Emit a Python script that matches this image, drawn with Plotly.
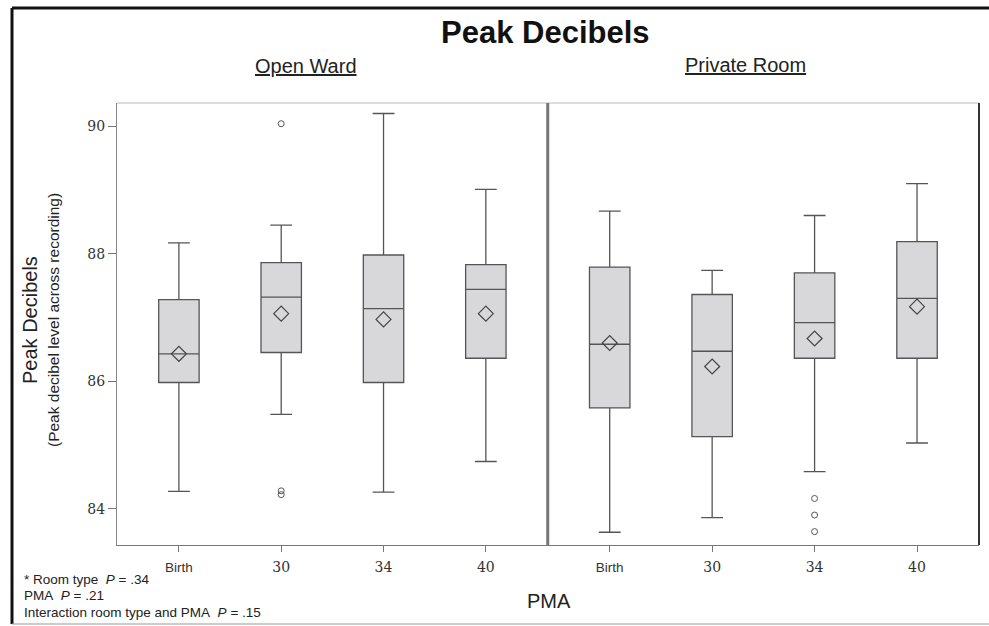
import plotly.graph_objects as go

# ---------------- data ----------------
categories = ["Birth", "30", "34", "40"]

open_q1 = [85.98, 86.45, 85.98, 86.36]
open_median = [86.43, 87.32, 87.14, 87.44]
open_q3 = [87.28, 87.86, 87.98, 87.83]
open_low = [84.27, 85.48, 84.26, 84.74]
open_high = [88.17, 88.45, 90.20, 89.01]
open_mean = [86.43, 87.06, 86.97, 87.06]
open_out_x = ["30", "30", "30"]
open_out_y = [90.04, 84.22, 84.28]

priv_q1 = [85.58, 85.13, 86.36, 86.36]
priv_median = [86.58, 86.47, 86.92, 87.30]
priv_q3 = [87.79, 87.36, 87.70, 88.19]
priv_low = [83.63, 83.86, 84.58, 85.03]
priv_high = [88.67, 87.74, 88.60, 89.10]
priv_mean = [86.60, 86.23, 86.67, 87.17]
priv_out_x = ["34", "34", "34"]
priv_out_y = [84.16, 83.90, 83.64]

y_ticks = [84, 86, 88, 90]
tick_labels = ['<span style="font-family:Liberation Sans;font-size:13.5px">Birth</span>', "30", "34", "40"]

# ---------------- geometry helpers ----------------
W, H = 989, 626
L, R, T, B = 117, 10, 103, 81
PW, PH = W - L - R, H - T - B


def px(x):
    return (x - L) / PW


def py(y):
    return (H - B - y) / PH


BOX_LINE = "#555555"
BOX_FILL = "#d8d8da"

fig = go.Figure()

panels = [
    ("x", open_q1, open_median, open_q3, open_low, open_high, open_mean, open_out_x, open_out_y),
    ("x2", priv_q1, priv_median, priv_q3, priv_low, priv_high, priv_mean, priv_out_x, priv_out_y),
]

for xa, q1, med, q3, lo, hi, mn, ox, oy in panels:
    fig.add_trace(go.Box(
        x=categories, q1=q1, median=med, q3=q3, lowerfence=lo, upperfence=hi,
        xaxis=xa, yaxis="y", boxpoints=False, width=0.395, whiskerwidth=0.54,
        fillcolor=BOX_FILL, line=dict(color=BOX_LINE, width=1.3), showlegend=False,
    ))
    fig.add_trace(go.Scatter(
        x=categories, y=mn, xaxis=xa, yaxis="y", mode="markers",
        marker=dict(symbol="diamond-open", size=11.5, color="#444444", line=dict(width=1.2)),
        showlegend=False,
    ))
    fig.add_trace(go.Scatter(
        x=ox, y=oy, xaxis=xa, yaxis="y", mode="markers",
        marker=dict(symbol="circle-open", size=6, color="#555555", line=dict(width=1)),
        showlegend=False,
    ))

xcommon = dict(
    type="category", range=[-0.605, 3.605], tickmode="array", tickvals=categories,
    ticktext=tick_labels, ticks="outside", ticklen=6, tickcolor="#777777", tickwidth=1,
    showline=True, linecolor="#777777", linewidth=1.2, showgrid=False, zeroline=False,
    tickfont=dict(family="DejaVu Serif", size=14, color="#333333"), fixedrange=True,
    ticklabelstandoff=3,
)

fig.update_layout(
    width=W, height=H, margin=dict(l=L, r=R, t=T, b=B),
    paper_bgcolor="white", plot_bgcolor="white",
    xaxis=dict(domain=[0, 0.4997], **xcommon),
    xaxis2=dict(domain=[0.4997, 1], **xcommon),
    yaxis=dict(
        range=[83.43, 90.365], tickmode="array", tickvals=y_ticks,
        ticks="outside", ticklen=8, tickcolor="#777777", showline=True,
        linecolor="#888888", linewidth=1, showgrid=False, zeroline=False,
        tickfont=dict(family="DejaVu Serif", size=14, color="#333333"),
    ),
    font=dict(family="Liberation Sans", color="#222222"),
)

# frame lines of the plot area
shapes = [
    dict(type="line", xref="paper", yref="paper", x0=0, x1=1, y0=1, y1=1,
         line=dict(color="#bbbbbb", width=1)),
    dict(type="line", xref="paper", yref="paper", x0=0.4997, x1=0.4997, y0=0, y1=1,
         line=dict(color="#777777", width=3)),
    dict(type="line", xref="paper", yref="paper", x0=1, x1=1, y0=0, y1=1,
         line=dict(color="#333333", width=2)),
    # outer figure frame
    dict(type="line", xref="paper", yref="paper", x0=px(12), x1=px(989), y0=py(8), y1=py(8),
         line=dict(color="#111111", width=3)),
    dict(type="line", xref="paper", yref="paper", x0=px(12), x1=px(12), y0=py(8), y1=py(624),
         line=dict(color="#111111", width=3)),
    dict(type="line", xref="paper", yref="paper", x0=px(12), x1=px(989), y0=py(624), y1=py(624),
         line=dict(color="#999999", width=1)),
]
fig.update_layout(shapes=shapes)

ann = []


def text(x, y, s, size, bold=False, angle=0, xanchor="center", color="#222222"):
    ann.append(dict(
        x=px(x), y=py(y), xref="paper", yref="paper", text=s, showarrow=False,
        xanchor=xanchor, yanchor="middle", textangle=angle,
        font=dict(family="Liberation Sans", size=size, color=color,
                  weight="bold" if bold else "normal"),
    ))


text(545, 33, "Peak Decibels", 31, bold=True, color="#111111")
text(306, 66, "<u>Open Ward</u>", 20)
text(745, 65, "<u>Private Room</u>", 20)
text(30, 320, "Peak Decibels", 20, angle=-90)
text(53, 320, "(Peak decibel level across recording)", 15.5, angle=-90)
text(549, 601, "PMA", 20)
text(22, 579, "* Room type&nbsp; <i>P</i> = .34", 13.5, xanchor="left")
text(22, 595.5, "PMA&nbsp; <i>P</i> = .21", 13.5, xanchor="left")
text(22, 612, "Interaction room type and PMA&nbsp; <i>P</i> = .15", 13.5, xanchor="left")

fig.update_layout(annotations=ann)

fig.write_html("out.html")
